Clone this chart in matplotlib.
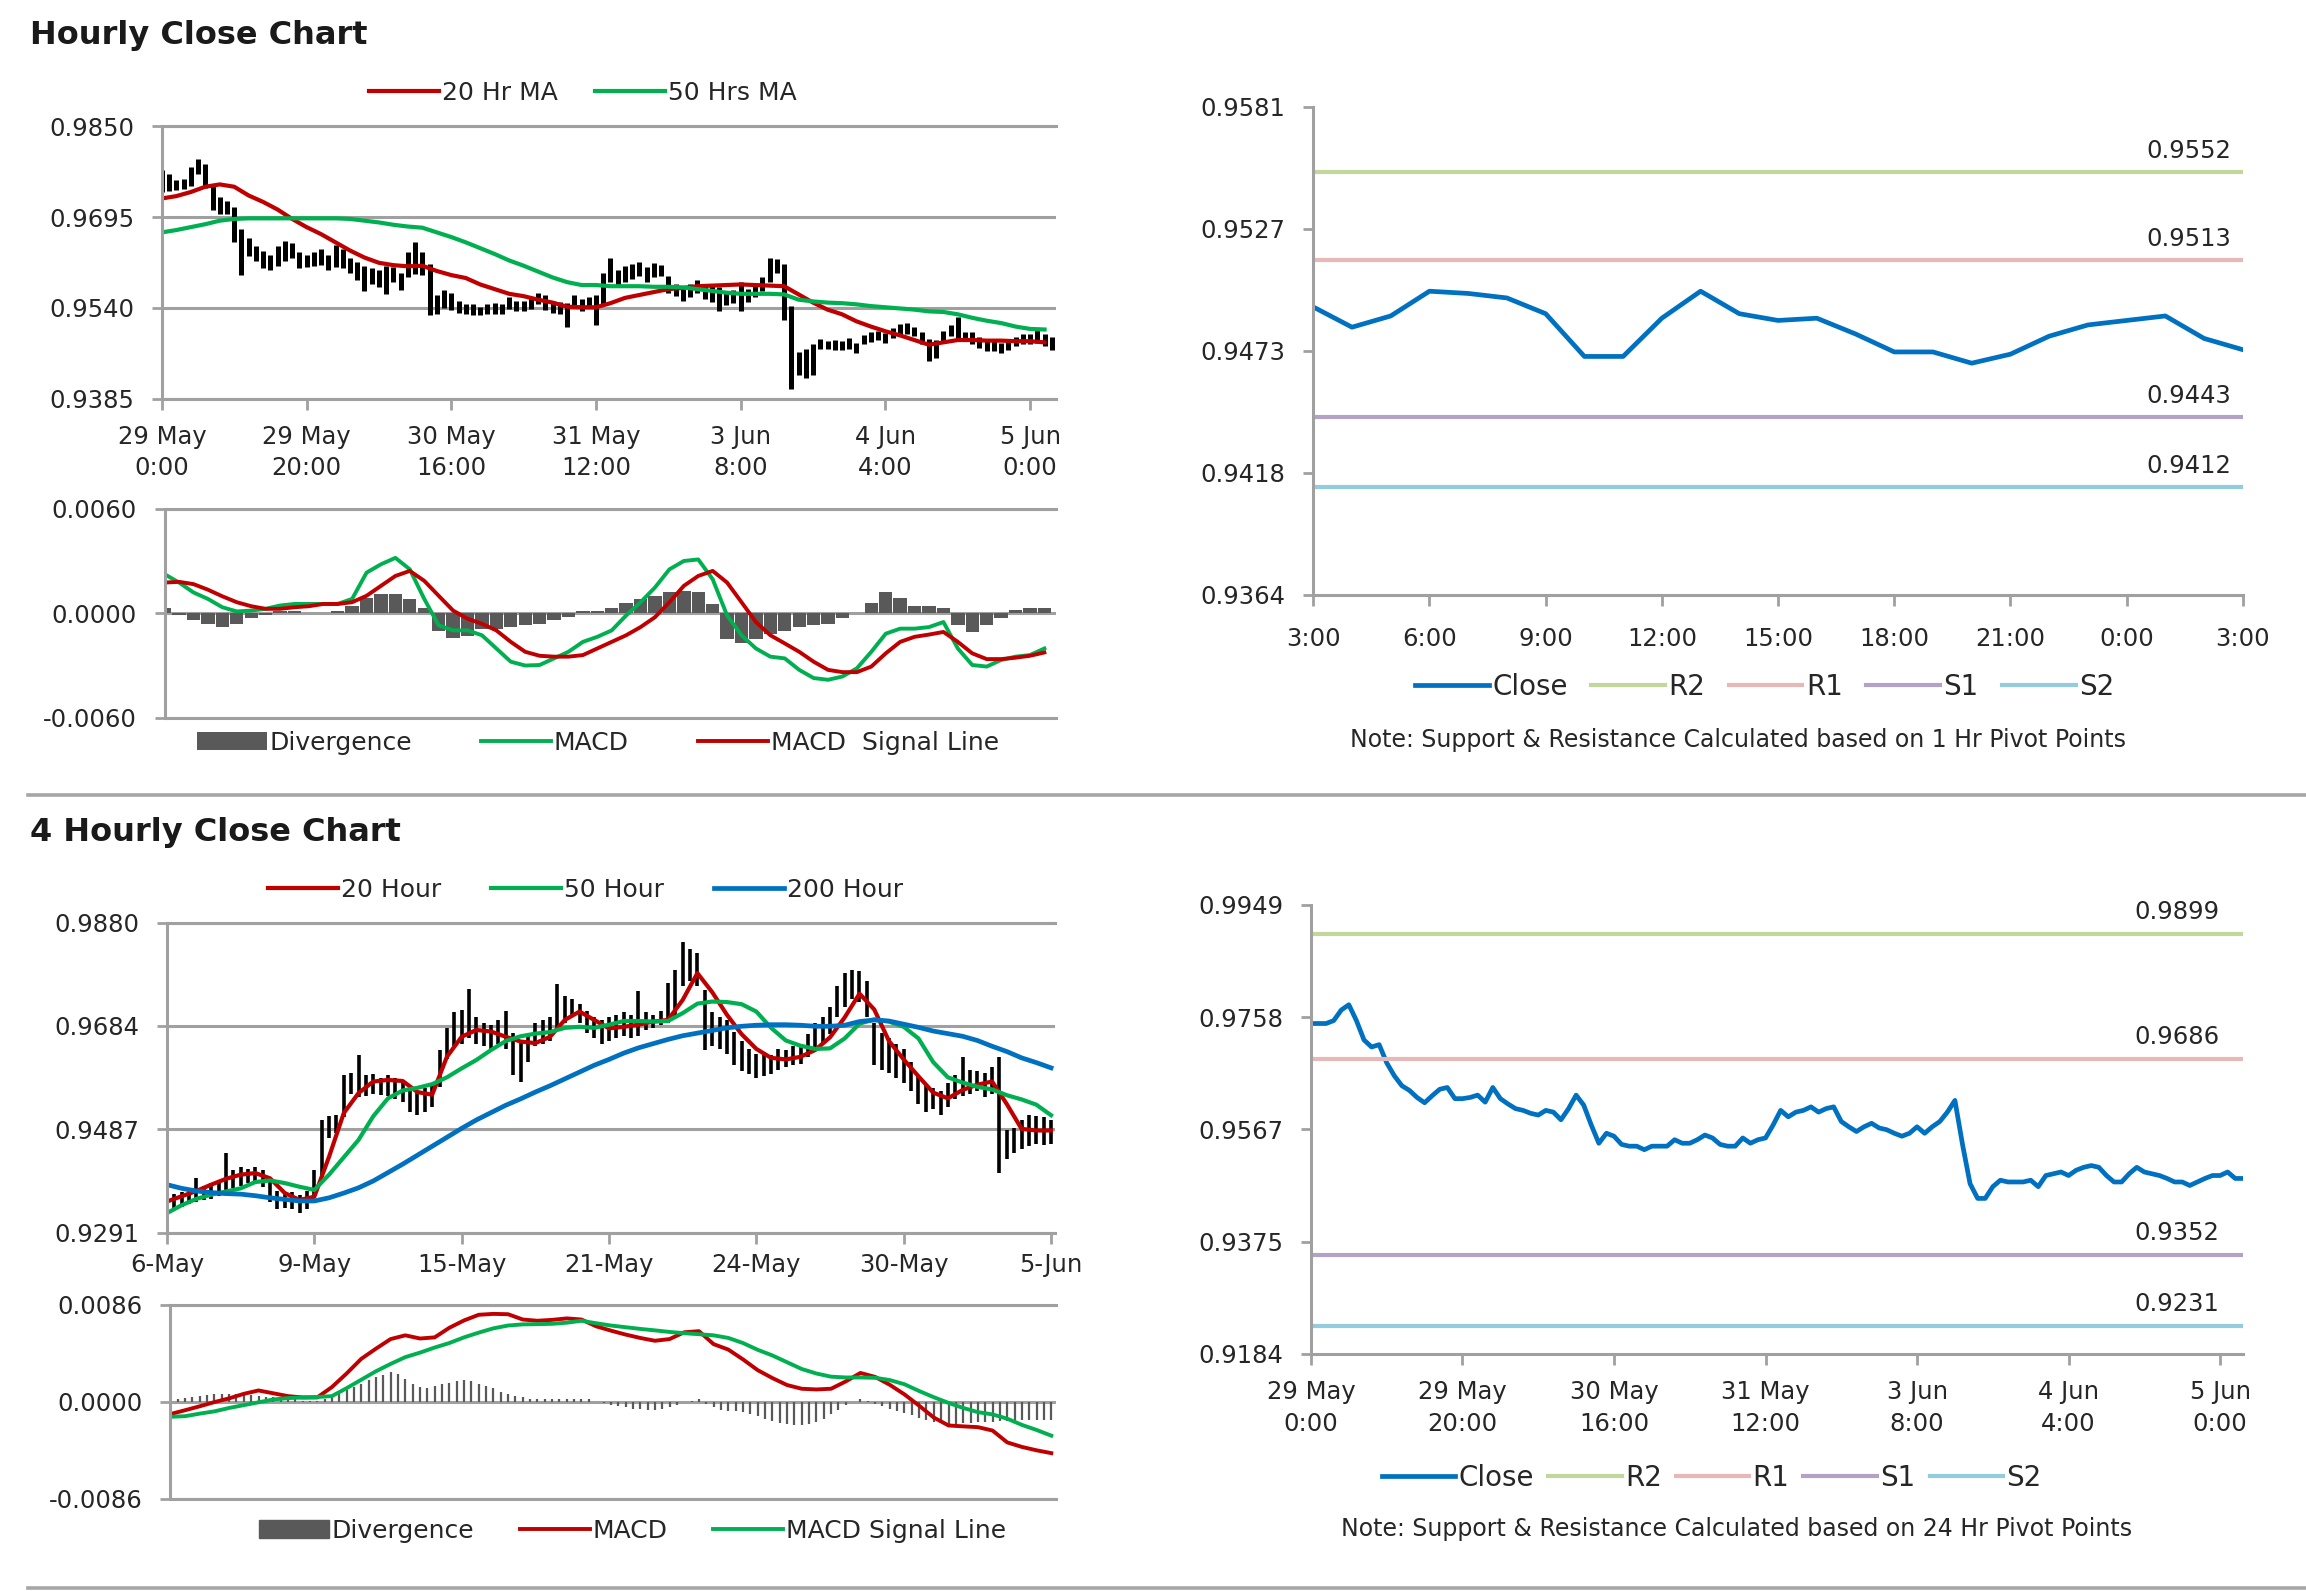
import numpy as np
import matplotlib
matplotlib.use('Agg')
import matplotlib.pyplot as plt
from matplotlib.lines import Line2D

# ---------- hourly data (29 May 0:00 -> 5 Jun 3:00) ----------
close_1h = [0.9747, 0.9747, 0.9747, 0.9752, 0.9770, 0.9779, 0.9752, 0.9719, 0.9707, 0.9711,
            0.9680, 0.9658, 0.9641, 0.9633, 0.9621, 0.9612, 0.9624, 0.9635, 0.9638, 0.9619,
            0.9619, 0.9621, 0.9625, 0.9613, 0.9638, 0.9619, 0.9610, 0.9602, 0.9599, 0.9594,
            0.9591, 0.9599, 0.9596, 0.9583, 0.9602, 0.9625, 0.9608, 0.9574, 0.9543, 0.9560,
            0.9555, 0.9541, 0.9538, 0.9538, 0.9532, 0.9538, 0.9538, 0.9538, 0.9549, 0.9543,
            0.9543, 0.9549, 0.9557, 0.9552, 0.9541, 0.9538, 0.9538, 0.9552, 0.9543, 0.9549,
            0.9552, 0.9574, 0.9599, 0.9588, 0.9596, 0.9599, 0.9605, 0.9596, 0.9602, 0.9605,
            0.9580, 0.9571, 0.9563, 0.9571, 0.9577, 0.9569, 0.9566, 0.9560, 0.9555, 0.9560,
            0.9571, 0.9560, 0.9571, 0.9580, 0.9596, 0.9616, 0.9541, 0.9474, 0.9449, 0.9449,
            0.9469, 0.9480, 0.9477, 0.9477, 0.9477, 0.9480, 0.9469, 0.9488, 0.9491, 0.9494,
            0.9488, 0.9497, 0.9502, 0.9505, 0.9502, 0.9488, 0.9477, 0.9477, 0.9491, 0.9502,
            0.9494, 0.9491, 0.9488, 0.9483, 0.9477, 0.9477, 0.9471, 0.9477, 0.9483, 0.9488,
            0.9488, 0.9494, 0.9483, 0.9483]
hi_1h = [0.9775, 0.9768, 0.9758, 0.9760, 0.9780, 0.9794, 0.9786, 0.9748, 0.9730, 0.9722,
         0.9712, 0.9675, 0.9660, 0.9645, 0.9638, 0.9630, 0.9645, 0.9655, 0.9650, 0.9636,
         0.9630, 0.9636, 0.9640, 0.9630, 0.9648, 0.9640, 0.9625, 0.9618, 0.9612, 0.9608,
         0.9605, 0.9612, 0.9610, 0.9600, 0.9635, 0.9652, 0.9635, 0.9615, 0.9562, 0.9570,
         0.9565, 0.9551, 0.9546, 0.9546, 0.9542, 0.9546, 0.9548, 0.9547, 0.9558, 0.9552,
         0.9552, 0.9558, 0.9565, 0.9562, 0.9552, 0.9550, 0.9548, 0.9562, 0.9555, 0.9558,
         0.9562, 0.9600, 0.9626, 0.9605, 0.9612, 0.9615, 0.9618, 0.9610, 0.9616, 0.9614,
         0.9594, 0.9580, 0.9572, 0.9580, 0.9588, 0.9580, 0.9578, 0.9575, 0.9566, 0.9570,
         0.9585, 0.9572, 0.9580, 0.9592, 0.9626, 0.9624, 0.9615, 0.9543, 0.9465, 0.9470,
         0.9478, 0.9487, 0.9484, 0.9485, 0.9484, 0.9488, 0.9480, 0.9494, 0.9498, 0.9500,
         0.9497, 0.9506, 0.9512, 0.9514, 0.9508, 0.9498, 0.9486, 0.9485, 0.9500, 0.9510,
         0.9524, 0.9498, 0.9498, 0.9490, 0.9485, 0.9484, 0.9480, 0.9486, 0.9490, 0.9496,
         0.9496, 0.9502, 0.9496, 0.9490]
lo_1h = [0.9738, 0.9740, 0.9742, 0.9744, 0.9748, 0.9768, 0.9745, 0.9707, 0.9700, 0.9700,
         0.9652, 0.9597, 0.9628, 0.9620, 0.9608, 0.9604, 0.9612, 0.9620, 0.9625, 0.9608,
         0.9610, 0.9612, 0.9614, 0.9605, 0.9610, 0.9608, 0.9600, 0.9588, 0.9568, 0.9580,
         0.9576, 0.9563, 0.9585, 0.9570, 0.9592, 0.9598, 0.9596, 0.9528, 0.9530, 0.9540,
         0.9536, 0.9532, 0.9530, 0.9528, 0.9528, 0.9530, 0.9530, 0.9530, 0.9538, 0.9534,
         0.9534, 0.9538, 0.9546, 0.9536, 0.9532, 0.9530, 0.9508, 0.9540, 0.9534, 0.9540,
         0.9510, 0.9545, 0.9585, 0.9578, 0.9585, 0.9590, 0.9595, 0.9585, 0.9592, 0.9594,
         0.9565, 0.9560, 0.9552, 0.9558, 0.9565, 0.9555, 0.9550, 0.9535, 0.9545, 0.9548,
         0.9535, 0.9550, 0.9558, 0.9568, 0.9585, 0.9600, 0.9520, 0.9402, 0.9425, 0.9420,
         0.9425, 0.9470, 0.9470, 0.9468, 0.9468, 0.9470, 0.9462, 0.9478, 0.9482, 0.9485,
         0.9480, 0.9488, 0.9492, 0.9495, 0.9492, 0.9478, 0.9450, 0.9455, 0.9480, 0.9492,
         0.9485, 0.9484, 0.9478, 0.9472, 0.9466, 0.9466, 0.9462, 0.9468, 0.9474, 0.9478,
         0.9478, 0.9480, 0.9474, 0.9468]
# moving averages / MACD, sampled every 2 hours
ma20_1h = [0.9727, 0.9731, 0.9738, 0.9747, 0.9751, 0.9747, 0.9732, 0.9721, 0.9708, 0.9692,
           0.9678, 0.9666, 0.9652, 0.9638, 0.9626, 0.9617, 0.9613, 0.9611, 0.9612, 0.9603,
           0.9596, 0.9591, 0.9580, 0.9572, 0.9564, 0.9560, 0.9554, 0.9549, 0.9542, 0.9541,
           0.9541, 0.9548, 0.9557, 0.9562, 0.9567, 0.9572, 0.9574, 0.9577, 0.9578, 0.9579,
           0.9580, 0.9579, 0.9578, 0.9577, 0.9563, 0.9549, 0.9537, 0.9529, 0.9517, 0.9508,
           0.9500, 0.9493, 0.9485, 0.9477, 0.9481, 0.9485, 0.9485, 0.9484, 0.9484, 0.9483,
           0.9483, 0.9481]
ma50_1h = [0.9669, 0.9673, 0.9678, 0.9683, 0.9689, 0.9692, 0.9693, 0.9693, 0.9693, 0.9693,
           0.9693, 0.9693, 0.9693, 0.9692, 0.9689, 0.9686, 0.9682, 0.9679, 0.9677, 0.9669,
           0.9661, 0.9652, 0.9642, 0.9632, 0.9621, 0.9612, 0.9602, 0.9592, 0.9584, 0.9579,
           0.9579, 0.9577, 0.9577, 0.9577, 0.9576, 0.9576, 0.9575, 0.9572, 0.9569, 0.9566,
           0.9564, 0.9564, 0.9564, 0.9563, 0.9554, 0.9551, 0.9549, 0.9548, 0.9546, 0.9543,
           0.9541, 0.9539, 0.9537, 0.9534, 0.9533, 0.9529, 0.9523, 0.9518, 0.9514, 0.9508,
           0.9504, 0.9503]
macd_1h = [0.00224, 0.00176, 0.00119, 0.00082, 0.00034, 0.00010, 0.00015, 0.00025, 0.00044, 0.00053,
           0.00053, 0.00053, 0.00053, 0.00082, 0.00233, 0.00281, 0.00318, 0.00252, 0.00082, -0.00070,
           -0.00099, -0.00099, -0.00127, -0.00203, -0.00279, -0.00301, -0.00298, -0.00260, -0.00222, -0.00165,
           -0.00136, -0.00099, -0.00013, 0.00063, 0.00148, 0.00252, 0.00300, 0.00309, 0.00195, -0.00013,
           -0.00127, -0.00203, -0.00250, -0.00260, -0.00326, -0.00373, -0.00383, -0.00364, -0.00317, -0.00222,
           -0.00118, -0.00089, -0.00089, -0.00080, -0.00051, -0.00203, -0.00298, -0.00307, -0.00269, -0.00250,
           -0.00241, -0.00203]
signal_1h = [0.00176, 0.00180, 0.00167, 0.00135, 0.00097, 0.00063, 0.00040, 0.00025, 0.00025, 0.00034,
             0.00040, 0.00053, 0.00053, 0.00063, 0.00100, 0.00157, 0.00214, 0.00243, 0.00186, 0.00100,
             0.00015, -0.00032, -0.00061, -0.00099, -0.00165, -0.00222, -0.00245, -0.00250, -0.00250, -0.00241,
             -0.00203, -0.00165, -0.00127, -0.00080, -0.00023, 0.00063, 0.00157, 0.00214, 0.00243, 0.00176,
             0.00063, -0.00051, -0.00127, -0.00174, -0.00222, -0.00279, -0.00326, -0.00339, -0.00339, -0.00307,
             -0.00231, -0.00165, -0.00136, -0.00123, -0.00108, -0.00165, -0.00231, -0.00264, -0.00264, -0.00256,
             -0.00245, -0.00226]
div_1h = [0.0003, -0.0001, -0.0004, -0.0006, -0.0008, -0.0006, -0.0003, -0.0001, 0.0001, 0.0001,
          0.0000, 0.0000, 0.0001, 0.0004, 0.0009, 0.0011, 0.0011, 0.0008, 0.0003, -0.0010,
          -0.0014, -0.0013, -0.0009, -0.0009, -0.0008, -0.0007, -0.0006, -0.0004, -0.0002, 0.0001,
          0.0001, 0.0003, 0.0006, 0.0008, 0.0010, 0.0012, 0.0013, 0.0012, 0.0005, -0.0015,
          -0.0017, -0.0015, -0.0012, -0.0010, -0.0008, -0.0007, -0.0006, -0.0003, 0.0000, 0.0006,
          0.0012, 0.0009, 0.0004, 0.0004, 0.0003, -0.0007, -0.0011, -0.0007, -0.0003, 0.0002,
          0.0003, 0.0003]
ticks_1h = ["29 May\n0:00", "29 May\n20:00", "30 May\n16:00", "31 May\n12:00",
            "3 Jun\n8:00", "4 Jun\n4:00", "5 Jun\n0:00"]

# ---------- last 24 hours with 1 Hr pivots ----------
close_24 = [0.9492, 0.9483, 0.9488, 0.9499, 0.9498, 0.9496, 0.9489, 0.9470, 0.9470, 0.9487,
            0.9499, 0.9489, 0.9486, 0.9487, 0.9480, 0.9472, 0.9472, 0.9467, 0.9471, 0.9479,
            0.9484, 0.9486, 0.9488, 0.9478, 0.9473]
ticks_24 = ["3:00", "6:00", "9:00", "12:00", "15:00", "18:00", "21:00", "0:00", "3:00"]
levels_1h = {"R2": 0.9552, "R1": 0.9513, "S1": 0.9443, "S2": 0.9412}
levels_24h = {"R2": 0.9899, "R1": 0.9686, "S1": 0.9352, "S2": 0.9231}

# ---------- 4 hourly data (6 May -> 5 Jun) ----------
hi_4h = [0.9362, 0.9365, 0.9368, 0.9375, 0.9395, 0.9380, 0.9385, 0.9390, 0.9442, 0.9410,
         0.9415, 0.9412, 0.9416, 0.9410, 0.9395, 0.9370, 0.9365, 0.9368, 0.9362, 0.9370,
         0.9410, 0.9505, 0.9512, 0.9515, 0.9590, 0.9595, 0.9629, 0.9590, 0.9592, 0.9585,
         0.9590, 0.9585, 0.9580, 0.9568, 0.9560, 0.9565, 0.9575, 0.9638, 0.9680, 0.9710,
         0.9714, 0.9753, 0.9700, 0.9690, 0.9685, 0.9695, 0.9712, 0.9670, 0.9655, 0.9668,
         0.9690, 0.9695, 0.9700, 0.9763, 0.9740, 0.9735, 0.9725, 0.9712, 0.9700, 0.9695,
         0.9700, 0.9705, 0.9710, 0.9705, 0.9750, 0.9710, 0.9705, 0.9712, 0.9765, 0.9790,
         0.9844, 0.9830, 0.9822, 0.9752, 0.9710, 0.9700, 0.9695, 0.9672, 0.9655, 0.9640,
         0.9630, 0.9635, 0.9628, 0.9640, 0.9638, 0.9645, 0.9650, 0.9668, 0.9690, 0.9700,
         0.9720, 0.9760, 0.9785, 0.9790, 0.9788, 0.9770, 0.9690, 0.9670, 0.9660, 0.9650,
         0.9640, 0.9615, 0.9590, 0.9572, 0.9565, 0.9560, 0.9575, 0.9590, 0.9625, 0.9600,
         0.9598, 0.9595, 0.9605, 0.9625, 0.9486, 0.9490, 0.9505, 0.9515, 0.9512, 0.9510,
         0.9505]
lo_4h = [0.9332, 0.9338, 0.9340, 0.9345, 0.9350, 0.9352, 0.9355, 0.9360, 0.9370, 0.9375,
         0.9380, 0.9385, 0.9388, 0.9378, 0.9350, 0.9335, 0.9338, 0.9335, 0.9328, 0.9335,
         0.9360, 0.9397, 0.9470, 0.9480, 0.9510, 0.9555, 0.9548, 0.9550, 0.9555, 0.9552,
         0.9550, 0.9545, 0.9540, 0.9520, 0.9515, 0.9520, 0.9530, 0.9568, 0.9620, 0.9645,
         0.9650, 0.9660, 0.9650, 0.9645, 0.9640, 0.9650, 0.9640, 0.9590, 0.9578, 0.9615,
         0.9645, 0.9650, 0.9655, 0.9680, 0.9690, 0.9700, 0.9690, 0.9670, 0.9660, 0.9650,
         0.9655, 0.9660, 0.9665, 0.9660, 0.9665, 0.9675, 0.9680, 0.9685, 0.9690, 0.9700,
         0.9760, 0.9770, 0.9760, 0.9638, 0.9645, 0.9640, 0.9630, 0.9610, 0.9598, 0.9592,
         0.9585, 0.9588, 0.9592, 0.9600, 0.9605, 0.9610, 0.9612, 0.9625, 0.9640, 0.9650,
         0.9668, 0.9700, 0.9720, 0.9735, 0.9730, 0.9700, 0.9610, 0.9600, 0.9595, 0.9585,
         0.9575, 0.9560, 0.9535, 0.9520, 0.9525, 0.9515, 0.9530, 0.9545, 0.9550, 0.9555,
         0.9560, 0.9548, 0.9555, 0.9404, 0.9430, 0.9442, 0.9450, 0.9455, 0.9460, 0.9458,
         0.9460]
# sampled every 2 bars
ma20_4h = [0.9350, 0.9360, 0.9370, 0.9382, 0.9393, 0.9401, 0.9404, 0.9394, 0.9366, 0.9353,
           0.9359, 0.9435, 0.9518, 0.9556, 0.9578, 0.9581, 0.9579, 0.9558, 0.9553, 0.9625,
           0.9663, 0.9676, 0.9673, 0.9663, 0.9654, 0.9651, 0.9663, 0.9695, 0.9711, 0.9695,
           0.9679, 0.9682, 0.9686, 0.9692, 0.9695, 0.9733, 0.9784, 0.9748, 0.9705, 0.9668,
           0.9640, 0.9623, 0.9620, 0.9625, 0.9638, 0.9662, 0.9700, 0.9745, 0.9715, 0.9655,
           0.9620, 0.9588, 0.9557, 0.9546, 0.9562, 0.9572, 0.9578, 0.9535, 0.9488, 0.9485,
           0.9485]
ma50_4h = [0.9328, 0.9343, 0.9355, 0.9363, 0.9369, 0.9375, 0.9387, 0.9390, 0.9385, 0.9378,
           0.9372, 0.9401, 0.9434, 0.9467, 0.9512, 0.9546, 0.9561, 0.9566, 0.9573, 0.9586,
           0.9603, 0.9619, 0.9638, 0.9655, 0.9664, 0.9669, 0.9672, 0.9680, 0.9682, 0.9680,
           0.9686, 0.9693, 0.9693, 0.9692, 0.9693, 0.9708, 0.9726, 0.9730, 0.9729, 0.9725,
           0.9711, 0.9680, 0.9656, 0.9646, 0.9640, 0.9641, 0.9660, 0.9688, 0.9696, 0.9692,
           0.9682, 0.9660, 0.9615, 0.9586, 0.9576, 0.9568, 0.9563, 0.9552, 0.9544, 0.9534,
           0.9514]
ma200_4h = [0.9382, 0.9375, 0.9370, 0.9367, 0.9365, 0.9364, 0.9361, 0.9357, 0.9354, 0.9351,
            0.9351, 0.9357, 0.9366, 0.9376, 0.9389, 0.9405, 0.9421, 0.9438, 0.9455, 0.9472,
            0.9489, 0.9505, 0.9519, 0.9533, 0.9545, 0.9558, 0.9570, 0.9583, 0.9596, 0.9609,
            0.9620, 0.9632, 0.9642, 0.9650, 0.9658, 0.9665, 0.9670, 0.9675, 0.9680, 0.9683,
            0.9685, 0.9686, 0.9686, 0.9685, 0.9683, 0.9683, 0.9685, 0.9692, 0.9695, 0.9693,
            0.9687, 0.9681, 0.9674, 0.9669, 0.9664, 0.9656, 0.9645, 0.9635, 0.9623, 0.9614,
            0.9604]
macd_4h = [-0.00109, -0.00075, -0.00040, -0.00003, 0.00030, 0.00070, 0.00100, 0.00075, 0.00050, 0.00038,
           0.00038, 0.00130, 0.00250, 0.00380, 0.00470, 0.00555, 0.00588, 0.00560, 0.00570, 0.00655,
           0.00720, 0.00770, 0.00778, 0.00775, 0.00728, 0.00717, 0.00725, 0.00738, 0.00728, 0.00668,
           0.00630, 0.00595, 0.00565, 0.00540, 0.00555, 0.00615, 0.00625, 0.00510, 0.00462, 0.00375,
           0.00280, 0.00210, 0.00148, 0.00115, 0.00109, 0.00115, 0.00180, 0.00255, 0.00220, 0.00150,
           0.00065, -0.00035, -0.00140, -0.00210, -0.00218, -0.00225, -0.00255, -0.00360, -0.00400, -0.00430,
           -0.00455]
signal_4h = [-0.00133, -0.00128, -0.00105, -0.00085, -0.00055, -0.00030, -0.00005, 0.00020, 0.00032, 0.00038,
             0.00042, 0.00050, 0.00120, 0.00195, 0.00270, 0.00335, 0.00395, 0.00435, 0.00480, 0.00520,
             0.00570, 0.00612, 0.00650, 0.00675, 0.00685, 0.00687, 0.00690, 0.00700, 0.00717, 0.00695,
             0.00675, 0.00660, 0.00645, 0.00632, 0.00618, 0.00607, 0.00598, 0.00588, 0.00565, 0.00520,
             0.00460, 0.00410, 0.00350, 0.00290, 0.00250, 0.00222, 0.00215, 0.00215, 0.00212, 0.00192,
             0.00155, 0.00095, 0.00040, -0.00010, -0.00055, -0.00092, -0.00112, -0.00150, -0.00205, -0.00250,
             -0.00300]
div_4h = [0.0002, 0.0002, 0.0003,
          0.0004, 0.0005, 0.0006, 0.0007, 0.0007, 0.0007, 0.0007, 0.0007, 0.0006, 0.0005,
          0.0004, 0.0004, 0.0003, 0.0003, 0.0002,
          0.0001, 0.0001, 0.0001, 0.0002, 0.0004,
          0.0007, 0.0010, 0.0013, 0.0016, 0.0019, 0.0022, 0.0024, 0.0026, 0.0025,
          0.0020, 0.0016, 0.0013,
          0.0012, 0.0014, 0.0016, 0.0017, 0.0018, 0.0019, 0.0018, 0.0016,
          0.0014, 0.0012, 0.0009, 0.0007, 0.0005, 0.0004,
          0.0002, 0.0002, 0.0002, 0.0002, 0.0002, 0.0002, 0.0002, 0.0002, 0.0002,
          0.0000, -0.0001,
          -0.0003, -0.0004, -0.0005, -0.0006, -0.0006, -0.0007, -0.0007, -0.0006, -0.0005, -0.0003,
          0.0000, 0.0001, 0.0002,
          -0.0002, -0.0005, -0.0007, -0.0008, -0.0008, -0.0009,
          -0.0011, -0.0013, -0.0015, -0.0017, -0.0019, -0.0020, -0.0021, -0.0021, -0.0020, -0.0018,
          -0.0015, -0.0011, -0.0007, -0.0003,
          0.0000, 0.0002, 0.0001,
          -0.0002, -0.0004, -0.0006, -0.0008, -0.0010, -0.0012, -0.0014, -0.0016, -0.0018, -0.0019,
          -0.0020, -0.0020, -0.0019, -0.0019, -0.0018, -0.0018, -0.0018, -0.0017, -0.0017, -0.0017,
          -0.0016, -0.0016, -0.0016, -0.0016, -0.0016]
ticks_4h = ["6-May", "9-May", "15-May", "21-May", "24-May", "30-May", "5-Jun"]

# ---------- style ----------
plt.rcParams['font.family'] = 'DejaVu Sans'
TXT = '#262626'
GRID = '#a0a0a0'
RED = '#c00000'
GREEN = '#00b050'
BLUE = '#0070c0'
LVL_COL = {"R2": '#c3d69b', "R1": '#e6b9b8', "S1": '#b3a2c7', "S2": '#93cddd'}
DIVC = '#595959'
FS = 17.5

fig = plt.figure(figsize=(23.06, 15.91), dpi=100)


def base_axes(rect):
    ax = fig.add_axes(rect)
    for s in ax.spines.values():
        s.set_color(GRID)
        s.set_linewidth(2.2)
    ax.spines['right'].set_visible(False)
    ax.tick_params(colors=GRID, labelcolor=TXT, labelsize=FS, width=2, length=7, direction='out')
    return ax


def price_y(ax, ylo, yhi, labels):
    ax.set_ylim(ylo, yhi)
    ax.set_yticks(np.linspace(ylo, yhi, len(labels)))
    ax.set_yticklabels(labels)
    ax.tick_params(axis='y', pad=13)


def legend_at(ax, handles, labels, cx, cy, colsp, fs=18, hl=2.8):
    ax.legend(handles, labels, loc='center', bbox_to_anchor=(cx, cy),
              bbox_transform=fig.transFigure, ncol=len(handles), frameon=False,
              fontsize=fs, handlelength=hl, handletextpad=0.12,
              columnspacing=colsp, borderpad=0, labelcolor=TXT)


def grid_y(ax):
    ax.yaxis.grid(True, color=GRID, lw=2.2)
    ax.set_axisbelow(True)


x1h = np.arange(len(close_1h))
x1h_s = np.arange(0, len(close_1h), 2)
x4h = np.arange(len(hi_4h))
x4h_s = np.arange(0, len(hi_4h), 2)

# ---- Hourly price chart ----
ax = base_axes([0.0702, 0.7495, 0.3878, 0.1710])
grid_y(ax)
ax.vlines(x1h, lo_1h, hi_1h, color='black', lw=3.6)
l20, = ax.plot(x1h_s, ma20_1h, color=RED, lw=3)
l50, = ax.plot(x1h_s, ma50_1h, color=GREEN, lw=3)
price_y(ax, 0.9385, 0.9850, ["0.9385", "0.9540", "0.9695", "0.9850"])
ax.set_xlim(0, 123.6)
ax.set_xticks(np.arange(0, 121, 20))
ax.set_xticklabels(ticks_1h, linespacing=1.35)
ax.tick_params(axis='x', pad=11, length=8)
legend_at(ax, [l20, l50], ["20 Hr MA", "50 Hrs MA"], 0.2529, 0.9418, 1.5)

# ---- Hourly MACD ----
ax = base_axes([0.0714, 0.5490, 0.3865, 0.1312])
grid_y(ax)
bars = ax.bar(x1h_s, div_1h, width=1.85, color=DIVC, lw=0)
lm, = ax.plot(x1h_s, macd_1h, color=GREEN, lw=2.8)
ls, = ax.plot(x1h_s, signal_1h, color=RED, lw=2.8)
ax.set_ylim(-0.006, 0.006)
ax.set_yticks([-0.006, 0.0, 0.006])
ax.set_yticklabels(["-0.0060", "0.0000", "0.0060"])
ax.tick_params(axis='y', pad=13)
ax.set_xlim(0, 123.6)
ax.set_xticks([])
legend_at(ax, [bars, lm, ls], ["Divergence", "MACD", "MACD  Signal Line"], 0.2592, 0.5333, 2.75)

# ---- 24h close with 1 Hr pivots ----
ax = base_axes([0.5695, 0.6261, 0.4031, 0.3068])
ax.spines['top'].set_visible(False)
x24 = np.arange(len(close_24))
hs = [ax.plot(x24, close_24, color=BLUE, lw=3.4)[0]]
for name, val in levels_1h.items():
    hs.append(ax.axhline(val, color=LVL_COL[name], lw=3))
    ax.annotate(f"{val:.4f}", xy=(0.988, val), xycoords=('axes fraction', 'data'),
                xytext=(0, 15), textcoords='offset points', ha='right', va='center',
                fontsize=FS, color=TXT)
price_y(ax, 0.9364, 0.9581, ["0.9364", "0.9418", "0.9473", "0.9527", "0.9581"])
ax.set_xlim(0, 24)
ax.set_xticks(np.arange(0, 25, 3))
ax.set_xticklabels(ticks_24)
ax.tick_params(axis='x', pad=15, length=8)
legend_at(ax, hs, ["Close"] + list(levels_1h), 0.7653, 0.5684, 0.85, fs=20, hl=2.65)
fig.text(0.7538, 0.5351, "Note: Support & Resistance Calculated based on 1 Hr Pivot Points",
         ha='center', va='center', fontsize=17, color=TXT)

# ---- 4 hourly price chart ----
ax = base_axes([0.0724, 0.2253, 0.3853, 0.1948])
grid_y(ax)
ax.vlines(x4h, lo_4h, hi_4h, color='black', lw=2.6)
m20, = ax.plot(x4h_s, ma20_4h, color=RED, lw=3)
m50, = ax.plot(x4h_s, ma50_4h, color=GREEN, lw=3)
m200, = ax.plot(x4h_s, ma200_4h, color=BLUE, lw=3.4)
price_y(ax, 0.9291, 0.9880, ["0.9291", "0.9487", "0.9684", "0.9880"])
ax.set_xlim(0, 120.6)
ax.set_xticks(np.arange(0, 121, 20))
ax.set_xticklabels(ticks_4h)
ax.tick_params(axis='x', pad=7, length=8)
legend_at(ax, [m20, m50, m200], ["20 Hour", "50 Hour", "200 Hour"], 0.2538, 0.4409, 2.0)

# ---- 4 hourly MACD ----
ax = base_axes([0.0739, 0.0579, 0.3839, 0.1221])
grid_y(ax)
ax.vlines(x4h, 0, div_4h, color=DIVC, lw=1.6)
lm, = ax.plot(x4h_s, macd_4h, color=RED, lw=2.8)
ls, = ax.plot(x4h_s, signal_4h, color=GREEN, lw=2.8)
ax.set_ylim(-0.0086, 0.0086)
ax.set_yticks([-0.0086, 0.0, 0.0086])
ax.set_yticklabels(["-0.0086", "0.0000", "0.0086"])
ax.tick_params(axis='y', pad=13)
ax.set_xlim(0, 120.6)
ax.set_xticks([])
div_handle = matplotlib.patches.Patch(color=DIVC)
legend_at(ax, [div_handle, lm, ls], ["Divergence", "MACD", "MACD Signal Line"], 0.2742, 0.0379, 1.8)

# ---- hourly close with 24 Hr pivots ----
ax = base_axes([0.5685, 0.1490, 0.4041, 0.2822])
ax.spines['top'].set_visible(False)
hs = [ax.plot(x1h, close_1h, color=BLUE, lw=3.4)[0]]
for name, val in levels_24h.items():
    hs.append(ax.axhline(val, color=LVL_COL[name], lw=3))
    ax.annotate(f"{val:.4f}", xy=(0.975, val), xycoords=('axes fraction', 'data'),
                xytext=(0, 16), textcoords='offset points', ha='right', va='center',
                fontsize=FS, color=TXT)
price_y(ax, 0.9184, 0.9949, ["0.9184", "0.9375", "0.9567", "0.9758", "0.9949"])
ax.set_xlim(0, 123)
ax.set_xticks(np.arange(0, 121, 20))
ax.set_xticklabels(ticks_1h, linespacing=1.4)
ax.tick_params(axis='x', pad=11, length=8)
legend_at(ax, hs, ["Close"] + list(levels_24h), 0.7423, 0.0712, 0.5, fs=20, hl=2.65)
fig.text(0.7532, 0.0388, "Note: Support & Resistance Calculated based on 24 Hr Pivot Points",
         ha='center', va='center', fontsize=17, color=TXT)

# ---- titles and separators ----
fig.text(0.0128, 0.9778, "Hourly Close Chart", fontsize=23, fontweight='bold',
         color='#1a1a1a', va='center')
fig.text(0.0128, 0.4769, "4 Hourly Close Chart", fontsize=23, fontweight='bold',
         color='#1a1a1a', va='center')
for yy in (0.5004, 0.0016):
    fig.add_artist(Line2D([0.0121, 1.0], [yy, yy], transform=fig.transFigure,
                          color='#a6a6a6', lw=2.6))

fig.savefig('out.png', dpi=100)
